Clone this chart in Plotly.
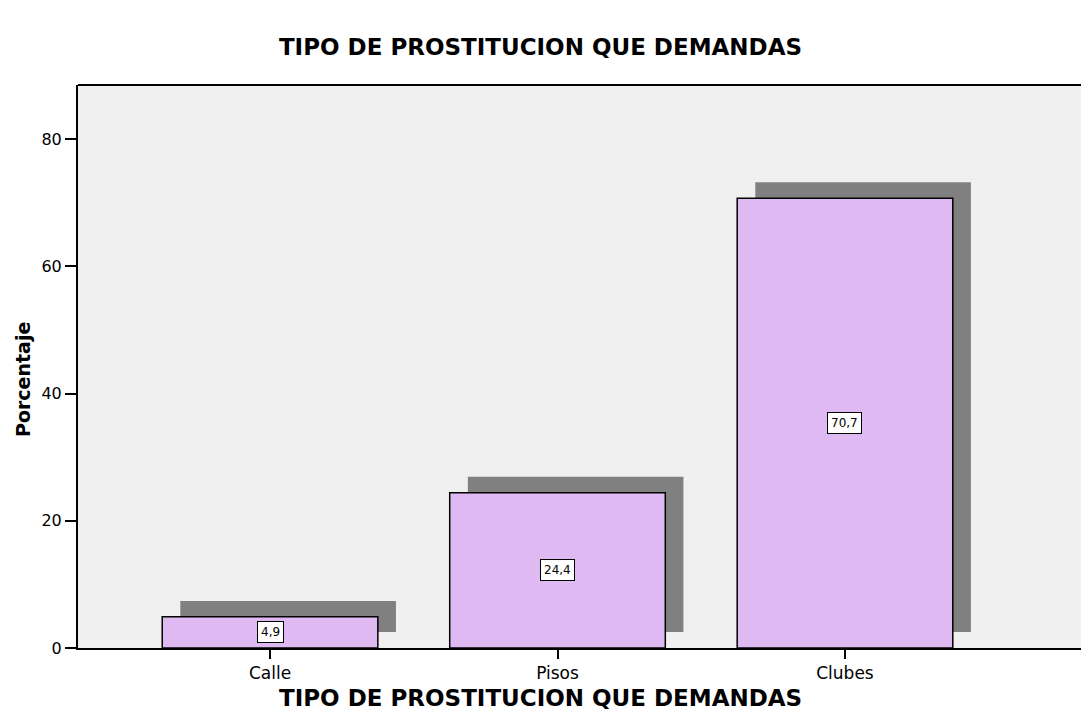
import plotly.graph_objects as go

categories = ["Calle", "Pisos", "Clubes"]
values = [4.9, 24.4, 70.7]
labels = ["4,9", "24,4", "70,7"]
y_ticks = [0, 20, 40, 60, 80]
title_text = "TIPO DE PROSTITUCION QUE DEMANDAS"
y_title = "Porcentaje"

FONT = "DejaVu Sans, Arial, sans-serif"
xs = list(range(len(categories)))
shadow_dx = 0.063
shadow_base = 2.5

W, H = 1081, 713
L, T, R, B = 78, 85, 0, 65
pw, ph = W - L - R, H - T - B

fig = go.Figure()
fig.add_trace(go.Bar(
    x=[x + shadow_dx for x in xs], y=values, base=shadow_base, width=0.75,
    marker=dict(color="#808080", line=dict(width=0)), hoverinfo="skip", showlegend=False))
fig.add_trace(go.Bar(
    x=xs, y=values, width=0.75,
    marker=dict(color="#DFBAF2", line=dict(color="#000000", width=1.5)), showlegend=False))

for x, v, t in zip(xs, values, labels):
    fig.add_annotation(x=x, y=v / 2, text=t, showarrow=False,
                       font=dict(family=FONT, size=12, color="#000"),
                       bgcolor="#ffffff", bordercolor="#000000", borderwidth=1, borderpad=3)

# top frame line
fig.add_shape(type="line", xref="paper", yref="paper", x0=0, x1=1, y0=1, y1=1,
              line=dict(color="#000", width=2))

# axis titles as annotations (positioned in paper coords)
fig.add_annotation(xref="paper", yref="paper", x=(540.5 - L) / pw, y=(T + ph - 698) / ph,
                   text="<b>" + title_text + "</b>", showarrow=False,
                   xanchor="center", yanchor="middle",
                   font=dict(family=FONT, size=23, color="#000"))
fig.add_annotation(xref="paper", yref="paper", x=(23 - L) / pw, y=(T + ph - 380) / ph,
                   text="<b>" + y_title + "</b>", showarrow=False, textangle=-90,
                   xanchor="center", yanchor="middle",
                   font=dict(family=FONT, size=19, color="#000"))

fig.update_layout(
    width=W, height=H,
    margin=dict(l=L, r=R, t=T, b=B),
    paper_bgcolor="#ffffff", plot_bgcolor="#F0F0F0",
    barmode="overlay",
    title=dict(text="<b>" + title_text + "</b>", x=540.5 / W, xanchor="center", xref="container",
               y=1 - 47 / H, yanchor="middle",
               font=dict(family=FONT, size=23, color="#000")),
    font=dict(family=FONT, color="#000"),
)
fig.update_xaxes(
    tickvals=xs, ticktext=categories, range=[-0.668, 2.821],
    showline=True, linecolor="#000", linewidth=2,
    ticks="outside", ticklen=9, tickcolor="#000", tickwidth=2,
    showgrid=False, zeroline=False,
    tickfont=dict(family=FONT, size=17, color="#000"),
)
fig.update_yaxes(
    tickvals=y_ticks, range=[0, 88.5],
    showline=True, linecolor="#000", linewidth=2,
    ticks="outside", ticklen=11, tickcolor="#000", tickwidth=2,
    showgrid=False, zeroline=False,
    tickfont=dict(family=FONT, size=16, color="#000"),
)

fig.write_html("out.html", config={"displayModeBar": False},
               post_script="document.body.style.margin='0px';document.body.style.overflow='hidden';")
